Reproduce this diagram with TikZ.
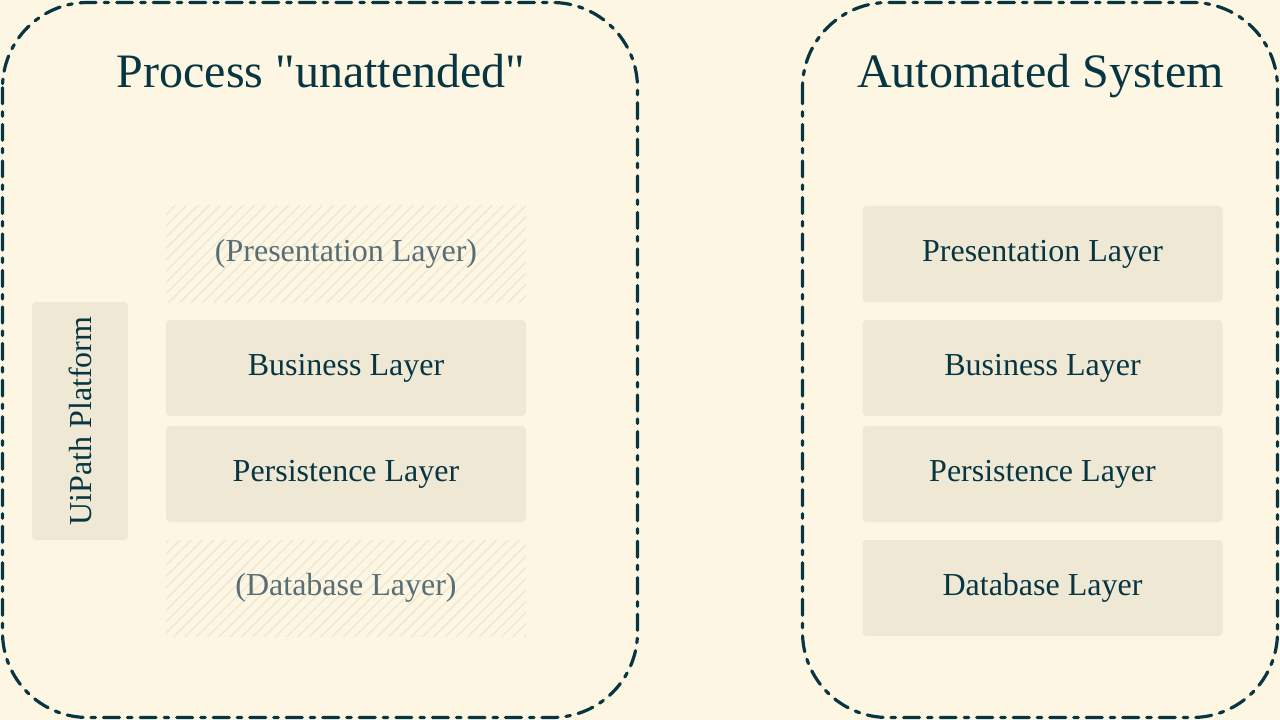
\documentclass[tikz,border=0pt]{standalone}
\usepackage{fontspec}
\setmainfont{Liberation Serif}[Ligatures=TeXOff]
\usetikzlibrary{patterns.meta}

\definecolor{bgcream}{HTML}{FDF6E3}
\definecolor{boxfill}{HTML}{EEE8D5}
\definecolor{inkdark}{HTML}{073642}
\definecolor{inkgray}{HTML}{586E75}

\tikzset{
  container/.style={draw=inkdark, line width=2.4pt, line cap=round, dash pattern=on 12pt off 6pt on 3.4pt off 6pt, rounded corners=64pt},
  layer/.style={fill=boxfill, rounded corners=3pt, minimum width=270pt, minimum height=72pt, inner sep=0pt, text=inkdark, font=\fontsize{24}{28}\selectfont},
  ghost/.style={layer, fill=none, rounded corners=0pt, pattern={Lines[angle=45,distance=6pt,line width=1.1pt]}, pattern color=boxfill, text=inkgray},
  heading/.style={anchor=base, inner sep=0pt, text=inkdark, font=\fontsize{36}{40}\selectfont}
}

\begin{document}
\begin{tikzpicture}[x=0.75pt,y=0.75pt,yscale=-1,xscale=1]
%Background
\fill [bgcream] (0,0) rectangle (1280,720);
\useasboundingbox (0,0) rectangle (1280,720);

%Shape: Rounded Rect (left)
\draw [container] (2.5,2.5) rectangle (637.5,717.5);
%Shape: Rounded Rect (right)
\draw [container] (802.5,2.5) rectangle (1277.5,717.5);

% Text Node
\node [heading] (procTitle) at (321,88) {Process "unattended"};
% Text Node
\node [heading] (autoTitle) at (1040.5,88) {Automated System};

%Left stack
\node [ghost] (procPres) at (346,254) {(Presentation Layer)};
\node [layer] (procBus) at (346,368) {Business Layer};
\node [layer] (procPers) at (346,474) {Persistence Layer};
\node [ghost] (procDb) at (346,588) {(Database Layer)};
\node [layer, rotate=90, minimum width=178.5pt] (uipath) at (80,421) {UiPath Platform};

%Right stack
\node [layer] (autoPres) at (1042.5,254) {Presentation Layer};
\node [layer] (autoBus) at (1042.5,368) {Business Layer};
\node [layer] (autoPers) at (1042.5,474) {Persistence Layer};
\node [layer] (autoDb) at (1042.5,588) {Database Layer};

\end{tikzpicture}
\end{document}
